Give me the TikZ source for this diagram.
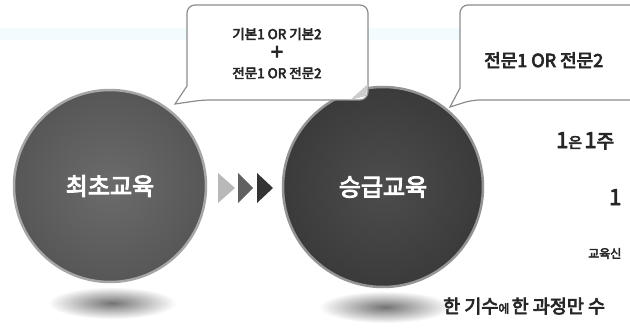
\documentclass[tikz,border=0pt]{standalone}
\usepackage{fontspec}
\setmainfont{Noto Sans CJK KR}[AutoFakeBold=4]
\tikzset{
  callout/.style={draw=black!45, line width=1.2pt, fill=white},
  ctext/.style={font=\bfseries\fontsize{13.5}{15}\selectfont, text=black!85, align=center},
  bigcirc/.style={circle, minimum size=#1, line width=2.5pt, text=white, font=\bfseries\fontsize{24}{26}\selectfont},
  rtext/.style={anchor=base west, inner sep=0pt, text=black!85, font=\bfseries}
}
\begin{document}
\begin{tikzpicture}[x=1pt,y=-1pt]
\useasboundingbox (0,0) rectangle (630,329);
\clip (0,0) rectangle (630,329);
\fill[white] (0,0) rectangle (630,329);
\fill[cyan!5] (0,28) rectangle (630,40);
% shadows
\shade[inner color=black!55, outer color=white] (112,303) ellipse [x radius=64, y radius=16];
\shade[inner color=black!55, outer color=white] (385,307) ellipse [x radius=66, y radius=16];
% circles
\shade[inner color=black!58, outer color=black!66] (110,186) circle [radius=96];
\node[bigcirc=192pt, draw=black!35] (c1) at (110,186) {최초교육};
\shade[inner color=black!70, outer color=black!77] (383,187) circle [radius=100];
\node[bigcirc=200pt, draw=black!42] (c2) at (383,187) {승급교육};
% arrows
\fill[black!28] (218,173) -- (235,188) -- (218,203) -- cycle;
\fill[black!62] (238,173) -- (253,188) -- (238,203) -- cycle;
\fill[black!80] (257,173) -- (273,188) -- (257,203) -- cycle;
% callout 1
\coordinate (tip1) at (175,104);
\draw[callout, rounded corners=8pt] (187,5) -- (368,5) -- (368,100) -- (202,100) [sharp corners] -- (tip1) -- (187,86) [rounded corners=8pt] -- cycle;
\fill[black!20] (350,100) -- (368,84) -- (366,96) -- cycle;
\node[ctext] (b1) at (277,34) {기본1 OR 기본2};
\node[ctext, font=\bfseries\fontsize{22}{22}\selectfont] (plus) at (277,53) {+};
\node[ctext] (b2) at (277,73) {전문1 OR 전문2};
% callout 2
\coordinate (tip2) at (450,107);
\draw[callout, rounded corners=8pt] (460,5) -- (650,5) -- (650,100) -- (472,100) [sharp corners] -- (tip2) -- (460,88) [rounded corners=8pt] -- cycle;
\node[rtext, font=\bfseries\fontsize{18}{20}\selectfont] (b3) at (484,67) {전문1 OR 전문2};
% right texts
\node[rtext] (r1) at (556,148) {{\fontsize{22}{24}\selectfont 1}{\fontsize{15}{18}\selectfont 은} {\fontsize{22}{24}\selectfont 1}{\fontsize{19}{22}\selectfont 주}};
\node[rtext] (r2) at (609,205) {{\fontsize{22}{24}\selectfont 1}};
\node[rtext, font=\bfseries\fontsize{12}{14}\selectfont] (r3) at (588,258) {교육신};
\node[rtext] (r4) at (443,313) {{\fontsize{18.5}{20}\selectfont 한 기수}{\fontsize{12}{14}\selectfont 에} {\fontsize{18.5}{20}\selectfont 한 과정만 수}};
\end{tikzpicture}
\end{document}
